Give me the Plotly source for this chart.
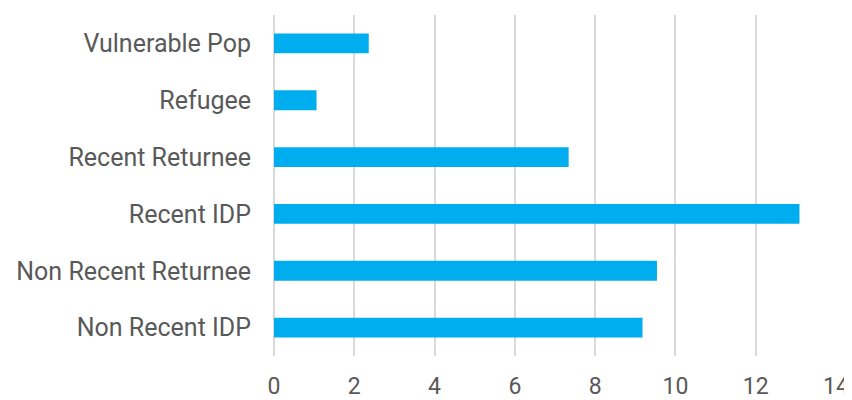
import plotly.graph_objects as go

categories = ["Non Recent IDP", "Non Recent Returnee", "Recent IDP",
              "Recent Returnee", "Refugee", "Vulnerable Pop"]
values = [9.18, 9.54, 13.09, 7.34, 1.06, 2.36]
x_ticks = [0, 2, 4, 6, 8, 10, 12, 14]

fig = go.Figure(go.Bar(
    y=categories, x=values, orientation="h",
    marker=dict(color="#00AEEF", line=dict(width=0)),
    width=0.35,
))

font = dict(family="Roboto", size=25, color="#595959")
xfont = dict(family="Roboto", size=23, color="#595959")
fig.update_layout(
    width=844, height=392,
    margin=dict(l=266, r=15.5, t=6.5, b=43.5, autoexpand=False),
    paper_bgcolor="white", plot_bgcolor="white",
    showlegend=False,
    font=font,
)
fig.update_xaxes(
    range=[0, 14], tickvals=x_ticks, ticktext=[str(v) for v in x_ticks],
    showgrid=True, gridcolor="#d9d9d9", gridwidth=1.5,
    zeroline=True, zerolinecolor="#d9d9d9", zerolinewidth=1.5,
    showline=False, ticks="", ticklabelstandoff=14, tickfont=xfont,
    automargin=False,
)
fig.update_yaxes(
    categoryorder="array", categoryarray=categories,
    showgrid=False, zeroline=False, showline=False, ticks="",
    ticklabelstandoff=22, tickfont=font, automargin=False,
)
fig.write_html("out.html")
